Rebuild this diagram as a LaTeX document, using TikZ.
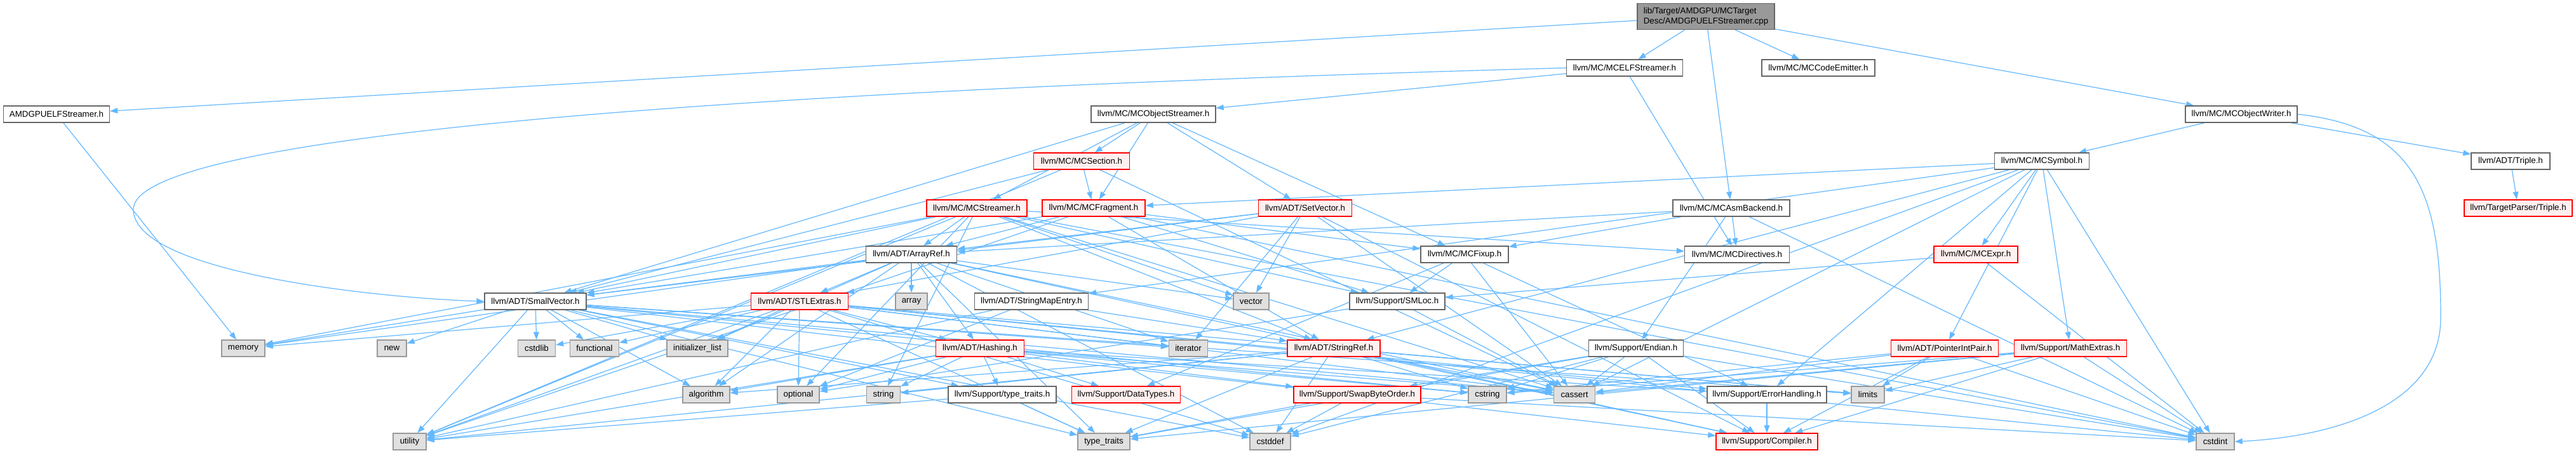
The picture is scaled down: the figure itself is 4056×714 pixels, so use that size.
\documentclass[tikz,border=0pt]{standalone}
\usepackage{fontspec}
\setmainfont{Liberation Sans}
\usetikzlibrary{arrows.meta}
\pgfdeclarelayer{back}
\pgfdeclarelayer{edges}
\pgfsetlayers{back,edges,main}
\definecolor{edgeblue}{HTML}{63B8FF}
\definecolor{redfill}{HTML}{FFF0F0}
\definecolor{redline}{HTML}{FF0000}
\definecolor{grayfill}{HTML}{E0E0E0}
\definecolor{grayline}{HTML}{999999}
\definecolor{darkline}{HTML}{666666}
\definecolor{rootfill}{HTML}{999999}
\begin{document}
\begin{tikzpicture}[x=0.75pt,y=-0.75pt,
  box/.style={draw, line width=1pt, minimum height=19.5pt, inner sep=0pt, font=\fontsize{10}{11.5}\selectfont},
  plain/.style={box, draw=darkline, fill=white},
  trunc/.style={box, draw=redline, fill=redfill},
  sys/.style={box, draw=grayline, fill=grayfill},
  rootst/.style={box, draw=darkline, fill=rootfill, align=left, minimum height=30.75pt},
  W/.style={minimum width=#1*0.75pt},
  conn/.style={draw=edgeblue, line width=0.9pt, -{Triangle[length=9pt,width=6.5pt]}}]
\useasboundingbox (0,0) rectangle (4056,714);
\begin{pgfonlayer}{back}
\fill[white] (0,0) rectangle (4056,714);
\end{pgfonlayer}
% row 1
\node[rootst,W=216] (root) at (2686,26) {lib/Target/AMDGPU/MCTarget\\Desc/AMDGPUELFStreamer.cpp};
% row 2
\node[plain,W=183] (mcelf) at (2558,107) {llvm/MC/MCELFStreamer.h};
\node[plain,W=178] (mccode) at (2863,107) {llvm/MC/MCCodeEmitter.h};
% row 3
\node[plain,W=167] (amdh) at (89,180) {AMDGPUELFStreamer.h};
\node[plain,W=196] (mcos) at (1816,180) {llvm/MC/MCObjectStreamer.h};
\node[plain,W=176] (mcow) at (3529,180) {llvm/MC/MCObjectWriter.h};
% row 4
\node[trunc,W=151] (mcsec) at (1703,254) {llvm/MC/MCSection.h};
\node[plain,W=149] (mcsym) at (3215,254) {llvm/MC/MCSymbol.h};
\node[plain,W=124] (adttriple) at (3953,254) {llvm/ADT/Triple.h};
% row 5
\node[trunc,W=158] (mcstr) at (1538,328) {llvm/MC/MCStreamer.h};
\node[trunc,W=162] (mcfrag) at (1722,328) {llvm/MC/MCFragment.h};
\node[trunc,W=147] (setvec) at (2055,328) {llvm/ADT/SetVector.h};
\node[plain,W=184] (mcasm) at (2726,328) {llvm/MC/MCAsmBackend.h};
\node[trunc,W=170] (tptriple) at (3965,328) {llvm/TargetParser/Triple.h};
% row 6
\node[plain,W=143] (arrayref) at (1435,401) {llvm/ADT/ArrayRef.h};
\node[plain,W=138] (mcfixup) at (2306,401) {llvm/MC/MCFixup.h};
\node[plain,W=165] (mcdir) at (2735,401) {llvm/MC/MCDirectives.h};
\node[trunc,W=132] (mcexpr) at (3111,401) {llvm/MC/MCExpr.h};
% row 7
\node[plain,W=160] (smallvec) at (843,475) {llvm/ADT/SmallVector.h};
\node[trunc,W=153] (stlext) at (1259,475) {llvm/ADT/STLExtras.h};
\node[sys,W=50] (array) at (1435,475) {array};
\node[plain,W=179] (sme) at (1624,475) {llvm/ADT/StringMapEntry.h};
\node[sys,W=56] (vector) at (1970,475) {vector};
\node[plain,W=150] (smloc) at (2200,475) {llvm/Support/SMLoc.h};
% row 8
\node[sys,W=68] (memory) at (383,549) {memory};
\node[sys,W=46] (new) at (617,549) {new};
\node[sys,W=59] (cstdlib) at (845,549) {cstdlib};
\node[sys,W=77] (functional) at (936,549) {functional};
\node[sys,W=96] (initlist) at (1098,549) {initializer\_list};
\node[trunc,W=139] (hashing) at (1543,549) {llvm/ADT/Hashing.h};
\node[sys,W=61] (iterator) at (1871,549) {iterator};
\node[trunc,W=146] (stringref) at (2100,549) {llvm/ADT/StringRef.h};
\node[plain,W=149] (endian) at (2576,549) {llvm/Support/Endian.h};
\node[trunc,W=169] (pip) at (3062,549) {llvm/ADT/PointerIntPair.h};
\node[trunc,W=177] (mathx) at (3260,549) {llvm/Support/MathExtras.h};
% row 9
\node[sys,W=74] (algorithm) at (1112,622) {algorithm};
\node[sys,W=66] (optional) at (1257,622) {optional};
\node[sys,W=53] (string) at (1391,622) {string};
\node[plain,W=170] (stt) at (1578,622) {llvm/Support/type\_traits.h};
\node[trunc,W=171] (datatypes) at (1773,622) {llvm/Support/DataTypes.h};
\node[trunc,W=200] (swap) at (2137,622) {llvm/Support/SwapByteOrder.h};
\node[sys,W=60] (cstring) at (2342,622) {cstring};
\node[sys,W=65] (cassert) at (2479,622) {cassert};
\node[plain,W=188] (errh) at (2782,622) {llvm/Support/ErrorHandling.h};
\node[sys,W=52] (limits) at (2941,622) {limits};
% row 10
\node[sys,W=52] (utility) at (645,696) {utility};
\node[sys,W=82] (typetraits) at (1738,696) {type\_traits};
\node[sys,W=64] (cstddef) at (2000,696) {cstddef};
\node[trunc,W=160] (compiler) at (2782,696) {llvm/Support/Compiler.h};
\node[sys,W=60] (cstdint) at (3488,696) {cstdint};

\begin{pgfonlayer}{edges}
\foreach \s/\t in {
 root/amdh, root/mcelf, root/mccode, root/mcasm, root/mcow,
 amdh/memory,
 mcelf/mcdir, mcelf/mcos,
 mcos/setvec, mcos/smallvec, mcos/mcfixup, mcos/mcfrag, mcos/mcsec, mcos/mcstr,
 mcow/mcsym, mcow/adttriple,
 adttriple/tptriple,
 mcsec/smallvec, mcsec/mcfrag, mcsec/cassert, mcsec/utility,
 mcsym/mcexpr, mcsym/mcfrag, mcsym/pip, mcsym/sme, mcsym/stringref, mcsym/errh, mcsym/mathx, mcsym/cassert, mcsym/cstddef, mcsym/cstdint,
 mcstr/arrayref, mcstr/smallvec, mcstr/stringref, mcstr/mcdir, mcstr/smloc, mcstr/cassert, mcstr/cstdint, mcstr/memory, mcstr/optional, mcstr/string, mcstr/utility, mcstr/vector,
 mcfrag/arrayref, mcfrag/smallvec, mcfrag/stringref, mcfrag/mcfixup, mcfrag/smloc, mcfrag/cstdint, mcfrag/utility,
 setvec/arrayref, setvec/stlext, setvec/smallvec, setvec/compiler, setvec/cassert, setvec/iterator, setvec/vector,
 mcasm/arrayref, mcasm/mcdir, mcasm/mcfixup, mcasm/endian, mcasm/cstdint,
 mcfixup/datatypes, mcfixup/errh, mcfixup/smloc, mcfixup/cassert,
 mcexpr/smloc, mcexpr/cstdint,
 arrayref/hashing, arrayref/stlext, arrayref/smallvec, arrayref/compiler, arrayref/algorithm, arrayref/array, arrayref/cassert, arrayref/cstddef, arrayref/initlist, arrayref/iterator, arrayref/memory, arrayref/typetraits, arrayref/vector,
 smallvec/compiler, smallvec/stt, smallvec/algorithm, smallvec/cassert, smallvec/cstddef, smallvec/cstdlib, smallvec/cstring, smallvec/functional, smallvec/initlist, smallvec/iterator, smallvec/limits, smallvec/memory, smallvec/new, smallvec/typetraits, smallvec/utility,
 stlext/hashing, stlext/errh, stlext/algorithm, stlext/cassert, stlext/cstddef, stlext/cstdint, stlext/cstdlib, stlext/functional, stlext/initlist, stlext/iterator, stlext/limits, stlext/memory, stlext/optional, stlext/typetraits, stlext/utility,
 sme/stringref, sme/optional, sme/utility,
 smloc/cassert, smloc/optional,
 hashing/datatypes, hashing/errh, hashing/swap, hashing/stt, hashing/algorithm, hashing/cassert, hashing/cstring, hashing/optional, hashing/string, hashing/utility,
 stringref/compiler, stringref/algorithm, stringref/cassert, stringref/cstddef, stringref/cstring, stringref/limits, stringref/string, stringref/typetraits, stringref/utility,
 endian/swap, endian/compiler, endian/cassert, endian/cstddef, endian/cstdint, endian/cstring, endian/typetraits,
 pip/compiler, pip/cassert, pip/cstdint, pip/cstring, pip/limits,
 mathx/compiler, mathx/cassert, mathx/cstdint, mathx/cstring, mathx/limits, mathx/typetraits,
 stt/typetraits, stt/utility,
 swap/cstddef, swap/cstdint, swap/typetraits,
 errh/compiler}
 { \draw[conn] (\s) -- (\t); }
\draw[conn] (mcelf.west) .. controls (900,150) and (210,230) .. (210,330) .. controls (210,430) and (600,470) .. (smallvec.west);
\draw[conn] (mcow.east) .. controls (3800,200) and (3843,300) .. (3843,500) .. controls (3843,650) and (3650,690) .. (cstdint.east);
\end{pgfonlayer}
\end{tikzpicture}
\end{document}
